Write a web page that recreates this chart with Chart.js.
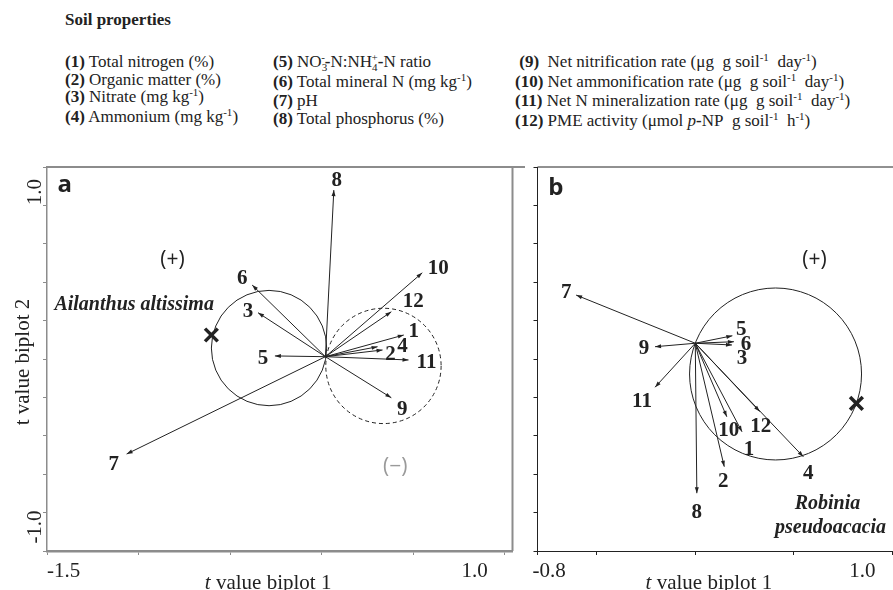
<!DOCTYPE html>
<html>
<head>
<meta charset="utf-8">
<script src="https://cdn.jsdelivr.net/npm/chart.js@4/dist/chart.umd.min.js"></script>
<style>
    html, body { margin: 0; padding: 0; width: 893px; height: 590px; overflow: hidden; background: #fff; }
    body { position: relative; font-family: "Liberation Serif", "Times New Roman", serif; color: #222; }
    .legend-title { position: absolute; left: 65px; top: 10px; font-size: 17px; font-weight: bold; }
    .legend-col { position: absolute; top: 53px; font-size: 17px; line-height: 17.6px; white-space: nowrap; }
    .legend-col sup { font-size: 11px; vertical-align: 0; position: relative; top: -6px; }
    .legend-col sub { font-size: 11px; vertical-align: 0; position: relative; top: 4px; }
    .legend-col .back { margin-left: -6px; }
    canvas { position: absolute; top: 140px; }
</style>
</head>
<body>
<div class="legend-title">Soil properties</div>
<div class="legend-col" style="left:65px">
    <div><b>(1)</b> Total nitrogen (%)</div>
    <div><b>(2)</b> Organic matter (%)</div>
    <div><b>(3)</b> Nitrate (mg kg<sup>-1</sup>)</div>
    <div><b>(4)</b> Ammonium (mg kg<sup>-1</sup>)</div>
</div>
<div class="legend-col" style="left:273px">
    <div><b>(5)</b> NO<sub>3</sub><sup class="back">-</sup><b>-</b>N:NH<sub>4</sub><sup class="back">+</sup><b>-</b>N ratio</div>
    <div><b>(6)</b> Total mineral N (mg kg<sup>-1</sup>)</div>
    <div><b>(7)</b> pH</div>
    <div><b>(8)</b> Total phosphorus (%)</div>
</div>
<div class="legend-col" style="left:515px">
    <div>&nbsp;<b>(9)</b>&nbsp; Net nitrification rate (μg&nbsp; g soil<sup>-1</sup>&nbsp; day<sup>-1</sup>)</div>
    <div><b>(10)</b> Net ammonification rate (μg&nbsp; g soil<sup>-1</sup>&nbsp; day<sup>-1</sup>)</div>
    <div><b>(11)</b> Net N mineralization rate (μg&nbsp; g soil<sup>-1</sup>&nbsp; day<sup>-1</sup>)</div>
    <div><b>(12)</b> PME activity (μmol <i>p</i><b>-</b>NP&nbsp; g soil<sup>-1</sup>&nbsp; h<sup>-1</sup>)</div>
</div>

<canvas id="panelA" width="525" height="450" style="left:0px"></canvas>
<canvas id="panelB" width="380" height="450" style="left:525px"></canvas>

<script>
// soil property numbers used as arrow labels
const ids = ['1', '2', '3', '4', '5', '6', '7', '8', '9', '10', '11', '12'];
const yTicks = [-1, -0.8, -0.6, -0.4, -0.2, 0, 0.2, 0.4, 0.6, 0.8, 1];

// Panel a - Ailanthus altissima
const originA = [0.021, 0.012];
const tipXA = [0.449, 0.333, -0.347, 0.306, -0.255, -0.379, -1.065, 0.067, 0.381, 0.550, 0.475, 0.381];
const tipYA = [0.125, 0.047, 0.241, 0.064, 0.016, 0.385, -0.495, 0.880, -0.202, 0.449, -0.005, 0.246];
const speciesA = [-0.602, 0.125];
const circleXA = [-0.287, 0.338];
const circleYA = [0.057, -0.036];
const circleRA = [0.315, 0.315];
const xTicksA = [-1.5, -1.0, -0.5, 0, 0.5, 1.0];

// Panel b - Robinia pseudoacacia
const originB = [0, 0.082];
const tipXB = [0.237, 0.147, 0.186, 0.548, 0.188, 0.196, -0.604, 0.008, -0.204, 0.160, -0.204, 0.327];
const tipYB = [-0.379, -0.561, 0.073, -0.509, 0.121, 0.090, 0.333, -0.699, 0.064, -0.301, -0.147, -0.274];
const speciesB = [0.817, -0.231];
const circleXB = [0.407];
const circleYB = [-0.078];
const circleRB = [0.436];
const xTicksB = [-0.8, -0.5, 0, 0.5, 1.0];

const SERIF = '"Liberation Serif", "Times New Roman", serif';
const SANS = '"Open Sans", "Liberation Sans", sans-serif';

document.addEventListener('DOMContentLoaded', function () {
    initializePanel('panelA', {
        origin: originA, tipX: tipXA, tipY: tipYA, species: speciesA,
        circleX: circleXA, circleY: circleYA, circleR: circleRA,
        circleDash: [[], [4, 3]],
        xMin: -1.5, xMax: 1.043, xTicks: xTicksA,
        padding: { left: 43, top: 27, right: 2, bottom: 35 },
        frameColor: '#8c8c8c', frameRight: true, axisWidth: 2.5, sideWidth: 1.5,
        // pixel nudges of the number labels from each arrow tip
        nudge: [[10, -3], [8, 5], [-10, -1], [25, 0], [-12, 3], [-10, -7], [-13, 11], [3, -9], [11, 12], [16, -4], [18, 3], [22, -10]],
        xLabels: [{ text: '-1.5', value: -1.5, align: 'left', dx: 0 }, { text: '1.0', value: 1.0, align: 'right', dx: -17 }],
        xTitleAt: -0.292,
        yLabels: true,
        notes: [
            { text: 'Ailanthus altissima', x: -1.024, y: 0.281, font: 'italic bold 20px ' + SERIF, color: '#222' },
            { text: '(+)', x: -0.815, y: 0.516, font: '21px ' + SANS, color: '#222' },
            { text: '(\u2212)', x: 0.402, y: -0.5625, font: '21px ' + SANS, color: '#9a9a9a' },
            { text: 'a', x: -1.403, y: 0.906, font: 'bold 24px ' + SANS, color: '#222' }
        ]
    });

    initializePanel('panelB', {
        origin: originB, tipX: tipXB, tipY: tipYB, species: speciesB,
        circleX: circleXB, circleY: circleYB, circleR: circleRB,
        circleDash: [[]],
        xMin: -0.8, xMax: 1.0, xTicks: xTicksB,
        padding: { left: 3, top: 27, right: 6, bottom: 35 },
        frameColor: '#222', frameRight: false, axisWidth: 1, sideWidth: 1,
        nudge: [[7, 18], [-1, 15], [10, 14], [5, 17], [9, -6], [12, 3], [-10, -2], [0, 19], [-11, 2], [2, 14], [-13, 14], [1, 15]],
        xLabels: [{ text: '-0.8', value: -0.8, align: 'left', dx: -5 }, { text: '1.0', value: 1.0, align: 'right', dx: -17 }],
        xTitleAt: 0.069,
        yLabels: false,
        notes: [
            { text: '(+)', x: 0.604, y: 0.516, font: '21px ' + SANS, color: '#222' },
            { text: 'Robinia', x: 0.670, y: -0.755, font: 'italic bold 20px ' + SERIF, color: '#222' },
            { text: 'pseudoacacia', x: 0.686, y: -0.880, font: 'italic bold 20px ' + SERIF, color: '#222' },
            { text: 'b', x: -0.707, y: 0.889, font: 'bold 24px ' + SANS, color: '#222' }
        ]
    });
});

function initializePanel(canvasId, panel) {
    const ctx = document.getElementById(canvasId);
    if (!ctx) return;

    // one two-point line per soil property, from the biplot origin to its tip
    const arrowSets = ids.map((id, i) => ({
        label: id,
        data: [{ x: panel.origin[0], y: panel.origin[1] }, { x: panel.tipX[i], y: panel.tipY[i] }],
        showLine: true,
        borderColor: '#222',
        borderWidth: 1,
        pointRadius: 0,
        fill: false
    }));

    const speciesSet = {
        label: 'species',
        data: [{ x: panel.species[0], y: panel.species[1] }],
        showLine: false,
        pointStyle: 'crossRot',
        pointRadius: 9,
        borderWidth: 3.5,
        borderColor: '#222'
    };

    new Chart(ctx, {
        type: 'scatter',
        data: { datasets: arrowSets.concat([speciesSet]) },
        options: {
            responsive: false,
            animation: false,
            events: [],
            layout: { padding: panel.padding },
            plugins: { legend: { display: false }, tooltip: { enabled: false } },
            scales: {
                x: {
                    type: 'linear',
                    min: panel.xMin,
                    max: panel.xMax,
                    afterBuildTicks: s => { s.ticks = panel.xTicks.map(v => ({ value: v })); },
                    afterFit: s => { s.height = 4; },
                    ticks: { display: false },
                    grid: { drawOnChartArea: false, drawTicks: true, tickLength: 4, color: panel.frameColor, lineWidth: 1 },
                    border: { display: true, color: panel.frameColor, width: panel.axisWidth }
                },
                y: {
                    type: 'linear',
                    min: -1,
                    max: 1,
                    afterBuildTicks: s => { s.ticks = yTicks.map(v => ({ value: v })); },
                    afterFit: s => { s.width = 4; },
                    ticks: { display: false },
                    grid: { drawOnChartArea: false, drawTicks: true, tickLength: 4, color: panel.frameColor, lineWidth: 1 },
                    border: { display: true, color: panel.frameColor, width: panel.sideWidth }
                }
            }
        },
        plugins: [makeDecor(panel)]
    });
}

function makeDecor(panel) {
    return {
        id: 'biplotDecor',
        beforeDatasetsDraw(chart) {
            const { ctx, scales: { x, y } } = chart;
            ctx.save();
            ctx.strokeStyle = '#222';
            ctx.lineWidth = 1;
            panel.circleX.forEach((cx, i) => {
                const px = x.getPixelForValue(cx);
                const py = y.getPixelForValue(panel.circleY[i]);
                const r = x.getPixelForValue(cx + panel.circleR[i]) - px;
                ctx.setLineDash(panel.circleDash[i]);
                ctx.beginPath();
                ctx.arc(px, py, r, 0, Math.PI * 2);
                ctx.stroke();
            });
            ctx.restore();
        },
        afterDatasetsDraw(chart) {
            const ctx = chart.ctx;
            ctx.save();
            ctx.fillStyle = '#222';
            ctx.font = 'bold 21px ' + SERIF;
            ctx.textAlign = 'center';
            ctx.textBaseline = 'middle';
            ids.forEach((id, i) => {
                const pts = chart.getDatasetMeta(i).data;
                const a = pts[0], b = pts[1];
                const ang = Math.atan2(b.y - a.y, b.x - a.x);
                const c = Math.cos(ang), s = Math.sin(ang);
                // small filled arrowhead
                ctx.beginPath();
                ctx.moveTo(b.x, b.y);
                ctx.lineTo(b.x - 6 * c + 2 * s, b.y - 6 * s - 2 * c);
                ctx.lineTo(b.x - 6 * c - 2 * s, b.y - 6 * s + 2 * c);
                ctx.closePath();
                ctx.fill();
                const n = panel.nudge[i];
                ctx.fillText(id, b.x + n[0], b.y + n[1]);
            });
            ctx.restore();
        },
        afterDraw(chart) {
            const { ctx, chartArea: area, scales: { x, y } } = chart;
            ctx.save();

            // top (and right) frame lines
            ctx.strokeStyle = panel.frameColor;
            ctx.lineWidth = panel.frameRight ? 2 : 1;
            ctx.beginPath();
            ctx.moveTo(area.left, area.top);
            ctx.lineTo(chart.width, area.top);
            if (panel.frameRight) {
                ctx.moveTo(area.left, area.top);
                ctx.lineTo(area.right, area.top);
                ctx.lineTo(area.right, area.bottom);
            }
            ctx.stroke();

            // text notes inside the plot
            ctx.textAlign = 'center';
            ctx.textBaseline = 'middle';
            panel.notes.forEach(note => {
                ctx.font = note.font;
                ctx.fillStyle = note.color;
                ctx.fillText(note.text, x.getPixelForValue(note.x), y.getPixelForValue(note.y));
            });

            // x axis end labels
            ctx.fillStyle = '#222';
            ctx.font = '21px ' + SERIF;
            panel.xLabels.forEach(l => {
                ctx.textAlign = l.align;
                ctx.fillText(l.text, x.getPixelForValue(l.value) + l.dx, area.bottom + 20);
            });

            // x axis title with italic t
            ctx.textAlign = 'left';
            ctx.textBaseline = 'alphabetic';
            ctx.font = 'italic 21px ' + SERIF;
            const w1 = ctx.measureText('t').width;
            ctx.font = '21px ' + SERIF;
            const w2 = ctx.measureText(' value biplot 1').width;
            const start = x.getPixelForValue(panel.xTitleAt) - (w1 + w2) / 2;
            ctx.font = 'italic 21px ' + SERIF;
            ctx.fillText('t', start, area.bottom + 38);
            ctx.font = '21px ' + SERIF;
            ctx.fillText(' value biplot 1', start + w1, area.bottom + 38);

            // rotated y axis labels and title
            if (panel.yLabels) {
                ctx.textBaseline = 'middle';
                ctx.textAlign = 'center';
                const rotText = (text, px, py) => {
                    ctx.save();
                    ctx.translate(px, py);
                    ctx.rotate(-Math.PI / 2);
                    ctx.fillText(text, 0, 0);
                    ctx.restore();
                };
                rotText('1.0', area.left - 12, area.top + 25);
                rotText('-1.0', area.left - 12, area.bottom - 24);
                rotText('t value biplot 2', area.left - 24, y.getPixelForValue(0) + 3);
            }
            ctx.restore();
        }
    };
}
</script>
</body>
</html>
